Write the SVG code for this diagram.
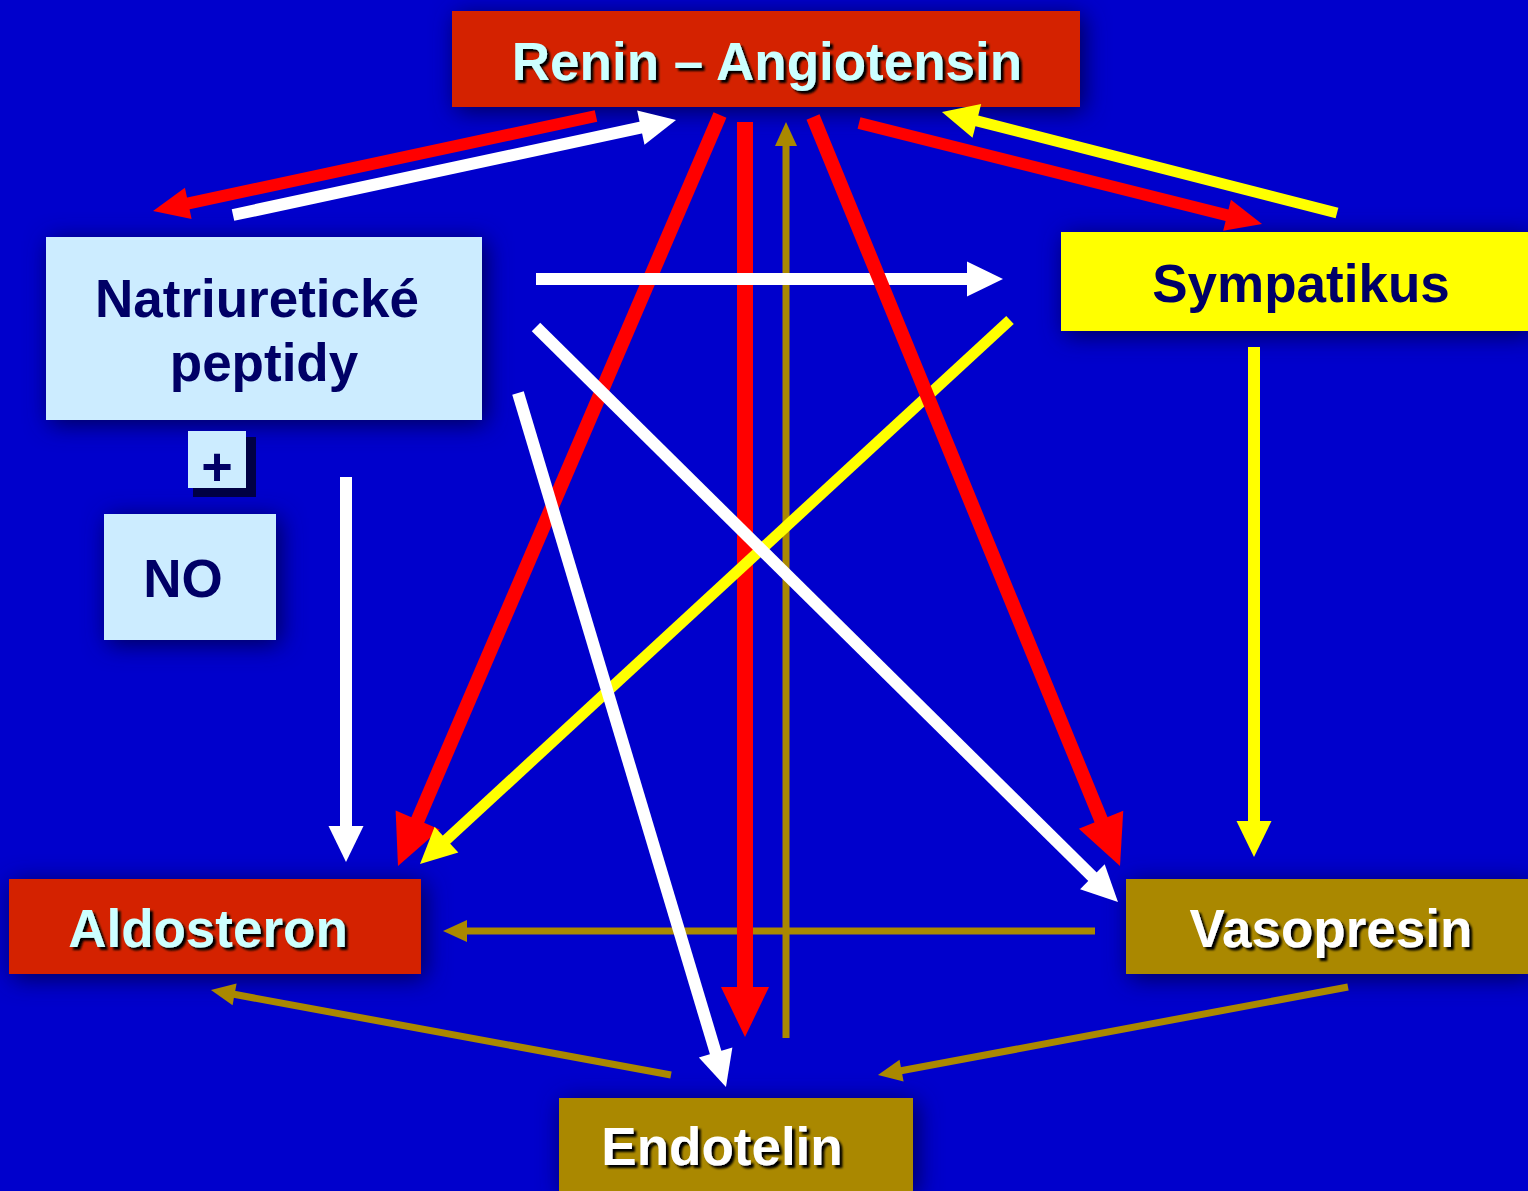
<svg xmlns="http://www.w3.org/2000/svg" width="1528" height="1191" viewBox="0 0 1528 1191">
<defs>
<style>
.lbl{font-family:"Liberation Sans",Arial,sans-serif;font-weight:bold;font-size:53px;text-anchor:middle}
.cy{fill:#CCFFFF}
.wh{fill:#FFFFFF}
.nv{fill:#000066}
.ln{fill:none;stroke-linecap:butt}
.red{stroke:#FF0000}
.white{stroke:#FFFFFF}
.yel{stroke:#FFFF00}
.oli{stroke:#AA8800;stroke-width:7}
</style>
<filter id="halo" x="-20%" y="-40%" width="140%" height="180%">
<feGaussianBlur in="SourceAlpha" stdDeviation="12"/>
<feOffset dx="4" dy="4" result="b"/>
<feFlood flood-color="#000055" flood-opacity="1"/>
<feComposite in2="b" operator="in"/>
<feMerge><feMergeNode/><feMergeNode in="SourceGraphic"/></feMerge>
</filter>
<filter id="tsh" x="-10%" y="-30%" width="120%" height="160%">
<feGaussianBlur in="SourceAlpha" stdDeviation="1"/>
<feOffset dx="3" dy="3" result="b"/>
<feFlood flood-color="#000000"/>
<feComposite in2="b" operator="in"/>
<feMerge><feMergeNode/><feMergeNode in="SourceGraphic"/></feMerge>
</filter>
<marker id="hRedL" markerUnits="userSpaceOnUse" markerWidth="52" markerHeight="48" refX="2" refY="24" orient="auto" overflow="visible"><path d="M0,0 L50,24 L0,48 z" fill="#FF0000"/></marker>
<marker id="hRedS" markerUnits="userSpaceOnUse" markerWidth="38" markerHeight="32" refX="2" refY="16" orient="auto" overflow="visible"><path d="M0,0 L36,16 L0,32 z" fill="#FF0000"/></marker>
<marker id="hWhite" markerUnits="userSpaceOnUse" markerWidth="38" markerHeight="35" refX="2" refY="17.5" orient="auto" overflow="visible"><path d="M0,0 L36,17.5 L0,35 z" fill="#FFFFFF"/></marker>
<marker id="hYel" markerUnits="userSpaceOnUse" markerWidth="38" markerHeight="35" refX="2" refY="17.5" orient="auto" overflow="visible"><path d="M0,0 L36,17.5 L0,35 z" fill="#FFFF00"/></marker>
<marker id="hOli" markerUnits="userSpaceOnUse" markerWidth="26" markerHeight="22" refX="2" refY="11" orient="auto" overflow="visible"><path d="M0,0 L24,11 L0,22 z" fill="#AA8800"/></marker>
</defs>
<rect x="0" y="0" width="1528" height="1191" fill="#0000CC"/>

<g id="renin" filter="url(#halo)">
<rect x="452" y="11" width="628" height="96" fill="#D42400"/>
<text class="lbl cy" x="767" y="80" filter="url(#tsh)">Renin – Angiotensin</text>
</g>
<g id="natriureticke" filter="url(#halo)">
<rect x="46" y="237" width="436" height="183" fill="#CCECFF"/>
<text class="lbl nv" x="257" y="317">Natriuretické</text>
<text class="lbl nv" x="264" y="381">peptidy</text>
</g>
<g id="plus">
<rect x="193" y="437" width="63" height="60" fill="#000044"/>
<rect x="188" y="431" width="58" height="57" fill="#CCECFF"/>
<text class="lbl nv" x="217" y="485" style="font-size:54px">+</text>
</g>
<g id="no" filter="url(#halo)">
<rect x="104" y="514" width="172" height="126" fill="#CCECFF"/>
<text class="lbl nv" x="183" y="597">NO</text>
</g>
<g id="sympatikus" filter="url(#halo)">
<rect x="1061" y="232" width="467" height="99" fill="#FFFF00"/>
<text class="lbl nv" x="1301" y="302">Sympatikus</text>
</g>
<g id="aldosteron" filter="url(#halo)">
<rect x="9" y="879" width="412" height="95" fill="#D42400"/>
<text class="lbl cy" x="208" y="947" filter="url(#tsh)">Aldosteron</text>
</g>
<g id="vasopresin" filter="url(#halo)">
<rect x="1126" y="879" width="402" height="95" fill="#AA8800"/>
<text class="lbl wh" x="1331" y="947" filter="url(#tsh)">Vasopresin</text>
</g>
<g id="endotelin" filter="url(#halo)">
<rect x="559" y="1098" width="354" height="93" fill="#AA8800"/>
<text class="lbl wh" x="722" y="1165" filter="url(#tsh)">Endotelin</text>
</g>

<g id="connectors">
<line class="ln oli" x1="786" y1="1038" x2="786" y2="144" marker-end="url(#hOli)"/>
<line class="ln oli" x1="1095" y1="931" x2="465" y2="931" marker-end="url(#hOli)"/>
<line class="ln oli" x1="671" y1="1075" x2="232.6" y2="994" marker-end="url(#hOli)"/>
<line class="ln oli" x1="1348" y1="987" x2="899.6" y2="1071" marker-end="url(#hOli)"/>
<line class="ln red" stroke-width="16" x1="745" y1="122" x2="745" y2="989" marker-end="url(#hRedL)"/>
<line class="ln red" stroke-width="14" x1="720" y1="115" x2="416.9" y2="821.9" marker-end="url(#hRedL)"/>
<line class="ln red" stroke-width="12" x1="596" y1="116" x2="186.3" y2="203.9" marker-end="url(#hRedS)"/>
<line class="ln red" stroke-width="12" x1="859" y1="123" x2="1229" y2="215.7" marker-end="url(#hRedS)"/>
<line class="ln yel" stroke-width="11" x1="1010" y1="320" x2="445" y2="841" marker-end="url(#hYel)"/>
<line class="ln yel" stroke-width="11" x1="1337" y1="213" x2="974.9" y2="120.4" marker-end="url(#hYel)"/>
<line class="ln yel" stroke-width="12" x1="1254" y1="347" x2="1254" y2="823" marker-end="url(#hYel)"/>
<line class="ln white" stroke-width="12" x1="536" y1="279" x2="969" y2="279" marker-end="url(#hWhite)"/>
<line class="ln red" stroke-width="14" x1="813" y1="117" x2="1101.8" y2="821.6" marker-end="url(#hRedL)"/>
<line class="ln white" stroke-width="12" x1="536" y1="327" x2="1093.8" y2="878.1" marker-end="url(#hWhite)"/>
<line class="ln white" stroke-width="12" x1="518" y1="393" x2="716.2" y2="1054.4" marker-end="url(#hWhite)"/>
<line class="ln white" stroke-width="12" x1="233" y1="215" x2="642.8" y2="127.1" marker-end="url(#hWhite)"/>
<line class="ln white" stroke-width="12" x1="346" y1="477" x2="346" y2="828" marker-end="url(#hWhite)"/>
</g>
</svg>
